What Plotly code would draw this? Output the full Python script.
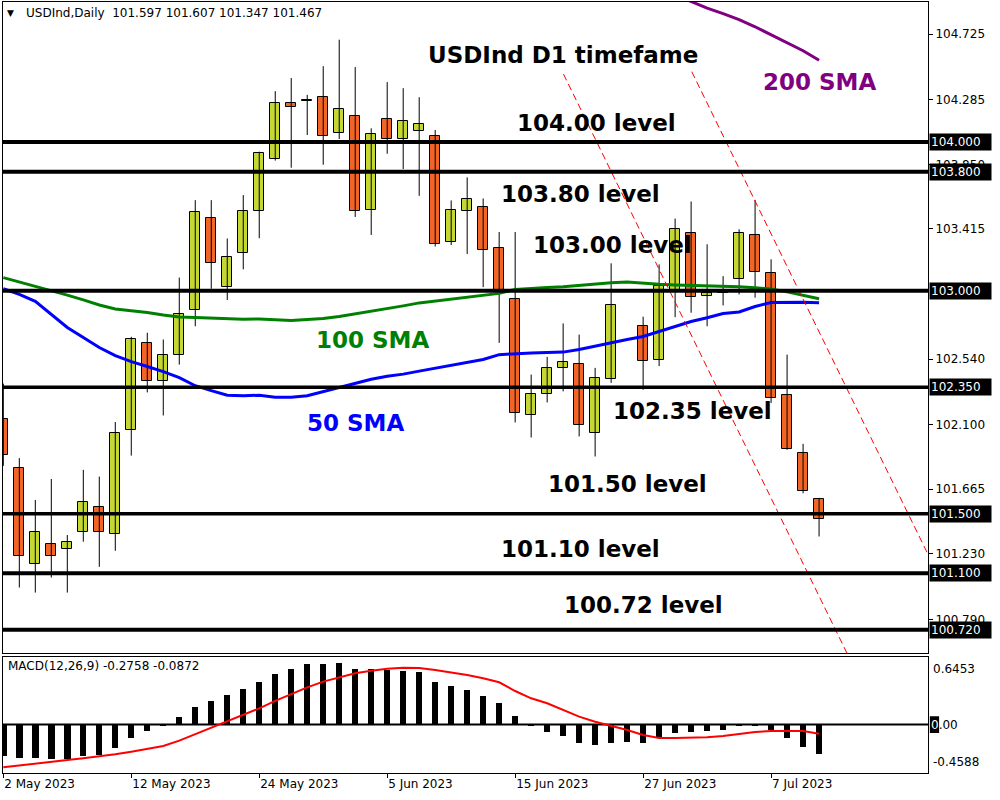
import plotly.graph_objects as go

# ---------------- data ----------------
dates = ["2 May 2023", "3 May 2023", "4 May 2023", "5 May 2023", "8 May 2023", "9 May 2023",
         "10 May 2023", "11 May 2023", "12 May 2023", "15 May 2023", "16 May 2023", "17 May 2023",
         "18 May 2023", "19 May 2023", "22 May 2023", "23 May 2023", "24 May 2023", "25 May 2023",
         "26 May 2023", "29 May 2023", "30 May 2023", "31 May 2023", "1 Jun 2023", "2 Jun 2023",
         "5 Jun 2023", "6 Jun 2023", "7 Jun 2023", "8 Jun 2023", "9 Jun 2023", "12 Jun 2023",
         "13 Jun 2023", "14 Jun 2023", "15 Jun 2023", "16 Jun 2023", "19 Jun 2023", "20 Jun 2023",
         "21 Jun 2023", "22 Jun 2023", "23 Jun 2023", "26 Jun 2023", "27 Jun 2023", "28 Jun 2023",
         "29 Jun 2023", "30 Jun 2023", "3 Jul 2023", "4 Jul 2023", "5 Jul 2023", "6 Jul 2023",
         "7 Jul 2023", "10 Jul 2023", "11 Jul 2023", "12 Jul 2023"]

opens = [102.139, 101.806, 101.161, 101.294, 101.260, 101.375, 101.548, 101.363, 102.065, 102.649,
         102.390, 102.568, 102.867, 103.492, 103.027, 103.252, 103.537, 103.883, 104.261, 104.280,
         104.301, 104.059, 104.173, 103.543, 104.153, 104.020, 104.072, 104.038, 103.330, 103.537,
         103.566, 103.290, 102.941, 102.164, 102.305, 102.481, 102.510, 102.042, 102.407, None,
         102.766, 102.535, 103.002, 103.391, 102.966, 102.990, 103.081, 103.378, 103.121, 102.301,
         101.908, 101.597]
highs = [102.375, 101.874, 101.593, 101.734, 101.357, 101.795, 101.750, 102.117, 102.690, 102.717,
         102.672, 103.088, 103.609, 103.609, 103.351, 103.643, 103.935, 104.342, 104.430, 104.317,
         104.510, 104.688, 104.504, 104.092, 104.403, 104.362, 104.301, 104.081, 103.607, 103.762,
         103.620, 103.395, 103.395, 102.436, 102.555, 102.780, 102.705, 102.481, 103.184, None,
         102.825, 103.177, 103.485, 103.600, 103.312, 103.098, 103.413, 103.611, 103.211, 102.570,
         101.970, 101.607]
lows = [101.822, 101.004, 100.970, 101.071, 100.970, 101.312, 101.143, 101.251, 101.891, 102.316,
        102.161, 102.503, 102.761, 103.013, 102.937, 103.144, 103.353, 103.875, 103.827, 104.047,
        103.847, 104.020, 103.496, 103.375, 103.921, 103.818, 103.638, 103.297, 103.307, 103.247,
        103.024, 102.649, 102.114, 102.013, 102.249, 102.323, 102.020, 101.885, 102.380, None,
        102.334, 102.493, 102.822, 102.852, 102.761, 102.901, 102.975, 102.953, 102.245, 101.930,
        101.638, 101.347]
closes = [101.896, 101.215, 101.379, 101.215, 101.312, 101.581, 101.375, 102.042, 102.676, 102.390,
          102.568, 102.845, 103.530, 103.189, 103.229, 103.537, 103.924, 104.261, 104.238, 104.275,
          104.038, 104.220, 103.537, 104.052, 104.020, 104.140, 104.119, 103.317, 103.546, 103.620,
          103.276, 103.002, 102.177, 102.305, 102.481, 102.521, 102.096, 102.413, 102.906, None,
          102.525, 103.029, 103.418, 102.960, 102.987, 102.985, 103.391, 103.128, 102.278, 101.935,
          101.651, 101.467]

sma50 = [103.013, 102.975, 102.928, 102.840, 102.753, 102.685, 102.618, 102.564, 102.523, 102.490,
         102.456, 102.415, 102.361, 102.328, 102.297, 102.294, 102.297, 102.284, 102.284, 102.294,
         102.321, 102.348, 102.378, 102.405, 102.425, 102.439, 102.459, 102.479, 102.496, 102.517,
         102.537, 102.570, 102.577, 102.581, 102.584, 102.587, 102.604, 102.628, 102.651, 102.672,
         102.692, 102.726, 102.763, 102.793, 102.818, 102.847, 102.857, 102.894, 102.921, 102.924,
         102.923, 102.919]
sma100 = [103.088, 103.059, 103.029, 103.002, 102.970, 102.938, 102.904, 102.877, 102.867, 102.854,
          102.837, 102.823, 102.820, 102.817, 102.810, 102.808, 102.810, 102.803, 102.800, 102.806,
          102.813, 102.827, 102.844, 102.864, 102.881, 102.898, 102.918, 102.931, 102.941, 102.955,
          102.968, 102.982, 103.009, 103.018, 103.022, 103.026, 103.036, 103.043, 103.053, 103.059,
          103.049, 103.043, 103.039, 103.036, 103.034, 103.031, 103.026, 103.020, 103.012, 102.992,
          102.968, 102.946]
sma200 = [None] * 42 + [104.990, 104.945, 104.900, 104.863, 104.823, 104.775, 104.720, 104.668,
                        104.614, 104.550]

macd_hist = [-0.295, -0.314, -0.314, -0.323, -0.323, -0.295, -0.285, -0.219, -0.124, -0.058,
             -0.004, 0.072, 0.176, 0.233, 0.281, 0.338, 0.404, 0.480, 0.536, 0.575,
             0.575, 0.584, 0.536, 0.527, 0.518, 0.508, 0.499, 0.413, 0.366, 0.328,
             0.272, 0.205, 0.082, 0.004, -0.067, -0.105, -0.172, -0.191, -0.172, -0.162,
             -0.172, -0.124, -0.077, -0.067, -0.058, -0.048, -0.004, -0.004, -0.048, -0.124,
             -0.209, -0.2758]
macd_signal = [-0.405, -0.386, -0.370, -0.355, -0.336, -0.320, -0.304, -0.282, -0.257, -0.231,
               -0.203, -0.152, -0.092, -0.032, 0.027, 0.091, 0.154, 0.224, 0.290, 0.353,
               0.407, 0.448, 0.486, 0.511, 0.530, 0.539, 0.536, 0.517, 0.496, 0.470,
               0.439, 0.401, 0.318, 0.249, 0.202, 0.138, 0.075, 0.027, -0.013, -0.051,
               -0.099, -0.127, -0.127, -0.127, -0.120, -0.108, -0.089, -0.070, -0.061, -0.061,
               -0.061, -0.0872]

levels = [104.00, 103.80, 103.00, 102.35, 101.50, 101.10, 100.72]
level_texts = ["104.00 level", "103.80 level", "103.00 level", "102.35 level",
               "101.50 level", "101.10 level", "100.72 level"]
price_ticks = [104.725, 104.285, 103.850, 103.415, 102.540, 102.100, 101.665, 101.230, 100.790]
macd_ticks = [0.6453, 0.00, -0.4588]

trend1_x = [35.02, 52.77]
trend1_y = [104.457, 100.557]
trend2_x = [43.04, 57.81]
trend2_y = [104.473, 101.227]

header = "USDInd,Daily  101.597 101.607 101.347 101.467"
macd_header = "MACD(12,26,9) -0.2758 -0.0872"

# ---------------- figure ----------------
idx = list(range(len(dates)))
UP = "#C4D733"
DN = "#F26526"
FONT = "DejaVu Sans"

fig = go.Figure()

# wicks
wx, wy = [], []
for i, h, l in zip(idx, highs, lows):
    if h is None:
        continue
    wx += [i, i, None]
    wy += [l, h, None]
fig.add_trace(go.Scatter(x=wx, y=wy, mode="lines", line=dict(color="black", width=1),
                         hoverinfo="skip", showlegend=False))

# bodies
for up, col in ((True, UP), (False, DN)):
    bx, bb, bh = [], [], []
    for i, o, c in zip(idx, opens, closes):
        if o is None:
            continue
        if (c > o) == up:
            bx.append(i)
            bb.append(min(o, c))
            bh.append(abs(c - o))
    fig.add_trace(go.Bar(x=bx, y=bh, base=bb, width=0.62, marker=dict(color=col,
                         line=dict(color="black", width=1)), showlegend=False))

# moving averages
fig.add_trace(go.Scatter(x=idx, y=sma100, mode="lines", line=dict(color="#008000", width=3),
                         showlegend=False))
fig.add_trace(go.Scatter(x=idx, y=sma50, mode="lines", line=dict(color="#0000FF", width=3),
                         showlegend=False))
fig.add_trace(go.Scatter(x=idx, y=sma200, mode="lines", line=dict(color="#800080", width=3),
                         showlegend=False))

# channel
for tx, ty in ((trend1_x, trend1_y), (trend2_x, trend2_y)):
    fig.add_trace(go.Scatter(x=tx, y=ty, mode="lines",
                             line=dict(color="#FF0000", width=1, dash="7px,4px"),
                             showlegend=False))

# MACD
fig.add_trace(go.Bar(x=idx, y=macd_hist, width=0.4, marker=dict(color="black", line=dict(width=0)),
                     xaxis="x2", yaxis="y2", showlegend=False))
fig.add_trace(go.Scatter(x=idx, y=macd_signal, mode="lines", line=dict(color="#FF0000", width=2),
                         xaxis="x2", yaxis="y2", showlegend=False))

shapes = []
for lv in levels:
    w = 3.5 if lv in (102.35, 101.5) else 4
    shapes.append(dict(type="line", xref="x domain", yref="y", x0=0, x1=1, y0=lv, y1=lv,
                       line=dict(color="black", width=w), layer="above"))
shapes.append(dict(type="line", xref="x2 domain", yref="y2", x0=0, x1=1, y0=0, y1=0,
                   line=dict(color="black", width=2), layer="below"))

ann = []
for lv in levels:
    ann.append(dict(xref="x domain", yref="y", x=1, y=lv, xanchor="left", yanchor="middle",
                    xshift=1, text=f"{lv:.3f}", showarrow=False, bgcolor="black",
                    font=dict(family=FONT, size=12, color="white"), width=59, align="left",
                    borderpad=1))

big = dict(family=FONT, size=23, color="black", weight="bold")
label_pos = [(37.06, 104.128), (36.06, 103.650), (38.06, 103.307), (43.06, 102.190),
             (39.0, 101.700), (36.06, 101.263), (40.0, 100.886)]
for t, (x, y) in zip(level_texts, label_pos):
    ann.append(dict(x=x, y=y, xref="x", yref="y", text=t, showarrow=False, font=big))
ann.append(dict(x=35.0, y=104.585, xref="x", yref="y", text="USDInd D1 timefame",
                showarrow=False, font=big))
ann.append(dict(x=23.06, y=102.668, xref="x", yref="y", text="100 SMA", showarrow=False,
                font=dict(family=FONT, size=23, color="#008000", weight="bold")))
ann.append(dict(x=22.0, y=102.110, xref="x", yref="y", text="50 SMA", showarrow=False,
                font=dict(family=FONT, size=23, color="#0000FF", weight="bold")))
ann.append(dict(x=51.0, y=104.403, xref="x", yref="y", text="200 SMA", showarrow=False,
                font=dict(family=FONT, size=23, color="#800080", weight="bold")))

# headers
ann.append(dict(xref="paper", yref="paper", x=0.002, y=0.9857, xanchor="left", yanchor="middle",
                text="▼", showarrow=False, font=dict(family=FONT, size=9, color="black")))
ann.append(dict(xref="paper", yref="paper", x=0.0227, y=0.9857, xanchor="left", yanchor="middle",
                text=header, showarrow=False, font=dict(family=FONT, size=12, color="black")))
ann.append(dict(xref="x2 domain", yref="y2 domain", x=0.003, y=0.915, xanchor="left",
                yanchor="middle", text=macd_header, showarrow=False,
                font=dict(family=FONT, size=12, color="black")))

# MACD scale labels
ann.append(dict(xref="x2 domain", yref="y2", x=1, y=macd_ticks[0], xanchor="left", yanchor="top",
                xshift=3, yshift=-3, text=f"{macd_ticks[0]:.4f}", showarrow=False,
                font=dict(family=FONT, size=12, color="black")))
ann.append(dict(xref="x2 domain", yref="y2", x=1, y=macd_ticks[2], xanchor="left", yanchor="bottom",
                xshift=3, yshift=2, text=f"{macd_ticks[2]:.4f}", showarrow=False,
                font=dict(family=FONT, size=12, color="black")))
shapes.append(dict(type="rect", xref="x2 domain", yref="y2", x0=1.002, x1=1.012,
                   y0=-0.08, y1=0.08, fillcolor="black", line=dict(width=0), layer="above"))
ann.append(dict(xref="x2 domain", yref="y2", x=1, y=macd_ticks[1], xanchor="left", yanchor="middle",
                xshift=1, text='<span style="color:white">0</span>.00', showarrow=False,
                font=dict(family=FONT, size=12, color="black")))

xr = [-0.02, 57.81]
fig.update_layout(
    template="none",
    width=1000, height=800,
    margin=dict(l=3, r=72, t=2, b=27, autoexpand=False),
    paper_bgcolor="white", plot_bgcolor="white",
    barmode="overlay", bargap=0,
    font=dict(family=FONT, size=12, color="black"),
    showlegend=False,
    shapes=shapes, annotations=ann,
    xaxis=dict(domain=[0, 1], range=xr, anchor="y", showticklabels=False, ticks="",
               showgrid=False, zeroline=False, showline=True, mirror=True, linecolor="black",
               linewidth=1, matches="x2", automargin=False),
    xaxis2=dict(domain=[0, 1], range=xr, anchor="y2", tickvals=idx[::8], ticktext=dates[::8],
                ticks="outside", ticklen=4, tickcolor="black", ticklabelposition="outside right",
                showgrid=False, zeroline=False, showline=True, mirror=True, linecolor="black",
                linewidth=1, tickfont=dict(family=FONT, size=12, color="black"), automargin=False),
    yaxis=dict(domain=[0.15564, 1], range=[100.5636, 104.9415], side="right", anchor="x",
               tickvals=price_ticks, ticktext=[f"{v:.3f}" for v in price_ticks],
               ticks="outside", ticklen=4, tickcolor="black", showgrid=False, zeroline=False,
               showline=True, mirror=True, linecolor="black", linewidth=1,
               tickfont=dict(family=FONT, size=12, color="black"), automargin=False),
    yaxis2=dict(domain=[0, 0.1511], range=[-0.4588, 0.6453], side="right", anchor="x2",
                showticklabels=False, ticks="", showgrid=False, zeroline=False,
                showline=True, mirror=True, linecolor="black", linewidth=1, automargin=False),
)

fig.write_html("out.html", config={"displayModeBar": False},
               post_script="document.body.style.margin='0';")
